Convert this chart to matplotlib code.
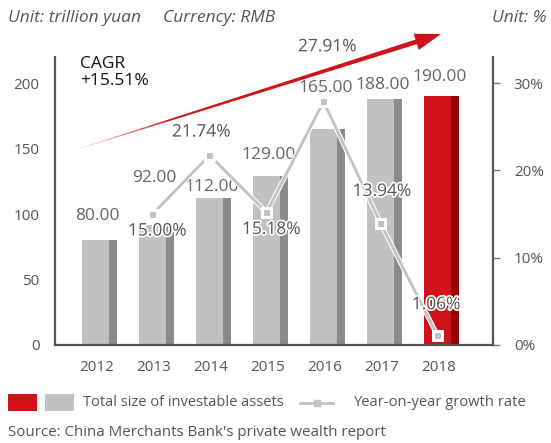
import matplotlib
matplotlib.use("Agg")
import matplotlib.pyplot as plt
import matplotlib.patheffects as pe
from matplotlib.patches import Polygon, Rectangle
from matplotlib.lines import Line2D
import numpy as np

plt.rcParams['font.family'] = ['Open Sans', 'DejaVu Sans']

years = ['2012', '2013', '2014', '2015', '2016', '2017', '2018']
assets = [80.00, 92.00, 112.00, 129.00, 165.00, 188.00, 190.00]
growth_years_idx = [1, 2, 3, 4, 5, 6]
growth = [15.00, 21.74, 15.18, 27.91, 13.94, 1.06]
left_ticks = [0, 50, 100, 150, 200]
right_ticks = [0, 10, 20, 30]

# label placement (offsets only)
bar_label_off = [18.5, 35.5, 8.6, 16, 31, 10.5, 14.6]
pct_label_pos = [(0.06, -2.0), (-0.17, 2.6), (0.06, -2.0), (0.04, 6.2), (0.0, 3.6), (-0.05, 3.5)]

W, H = 551, 443
fig = plt.figure(figsize=(W / 100, H / 100), dpi=100)
ax = fig.add_axes([55 / W, 1 - 345 / H, (493 - 55) / W, (345 - 57) / H])
ax2 = ax.twinx()

LIGHT = '#c0c1c0'
DARK = '#8a8a8a'
RED = '#d0121b'
DRED = '#960000'
TXT = '#555555'

x = np.arange(len(years))
lw_, dw_ = 0.474, 0.14
for i, v in enumerate(assets):
    c1, c2 = (RED, DRED) if i == len(years) - 1 else (LIGHT, DARK)
    ax.bar(x[i] - 0.263, v, width=lw_, align='edge', color=c1, linewidth=0, zorder=2)
    ax.bar(x[i] - 0.263 + lw_, v, width=dw_, align='edge', color=c2, linewidth=0, zorder=2)
    ax.text(x[i] + 0.01, v + bar_label_off[i], f'{v:.2f}', ha='center', va='center',
            fontsize=12.5, color='#666666', zorder=5)

ax.set_xlim(-0.737, 6.947)
ax.set_ylim(0, 220)
ax2.set_ylim(0, 33)

gx = [x[i] - 0.025 for i in growth_years_idx]
ax2.plot(gx, growth, color=LIGHT, lw=2.0, marker='s', markersize=5,
         markerfacecolor=LIGHT, markeredgecolor='white', markeredgewidth=0.8, zorder=4,
         path_effects=[pe.Stroke(linewidth=3.6, foreground='white'), pe.Normal()])
for (dx, dy), gi, g in zip(pct_label_pos, growth_years_idx, growth):
    t = ax2.text(x[gi] + dx, g + dy, f'{g:.2f}%', ha='center', va='center', fontsize=12.5,
                 color=TXT, zorder=6, clip_on=False)
    t.set_path_effects([pe.withStroke(linewidth=2.5, foreground='white')])

ax.set_xticks(x)
ax.set_xticklabels(years)
ax.set_yticks(left_ticks)
ax.set_yticklabels([str(t) for t in left_ticks])
ax2.set_yticks(right_ticks)
ax2.set_yticklabels([f'{t}%' for t in right_ticks])

ax.tick_params(axis='x', length=0, pad=11, labelsize=11, labelcolor=TXT)
ax.tick_params(axis='y', length=0, pad=11, labelsize=11, labelcolor=TXT)
ax2.tick_params(axis='y', length=5, width=1, color='#777777', pad=10, labelsize=11, labelcolor=TXT)

for a in (ax, ax2):
    a.spines['top'].set_visible(False)
    for s in ('left', 'right', 'bottom'):
        a.spines[s].set_color('#555555')
        a.spines[s].set_linewidth(1.6)
ax.spines['right'].set_visible(False)
ax2.spines['left'].set_visible(False)
ax2.spines['bottom'].set_visible(False)
ax.set_zorder(1)
ax2.set_zorder(2)
ax.patch.set_visible(False)

# red tapered arrow with fading tail (figure pixel coordinates)
def P(px, py):
    return (px / W, 1 - py / H)
tail = np.array([72.0, 151.0])
tip = np.array([441.0, 34.0])
L = np.linalg.norm(tip - tail)
u = (tip - tail) / L
n = np.array([-u[1], u[0]])
head_len = 26
hb = tip - u * head_len
shaft_len = L - head_len
w0, w1 = 0.3, 2.4
N = 40
for k in range(N):
    t0, t1 = k / N, (k + 1) / N
    a0 = tail + u * shaft_len * t0
    a1 = tail + u * shaft_len * t1 + u * 0.6
    h0 = w0 + (w1 - w0) * t0
    h1 = w0 + (w1 - w0) * t1
    alpha = min(1.0, 0.05 + t0 / 0.3)
    poly = [a0 + n * h0, a1 + n * h1, a1 - n * h1, a0 - n * h0]
    fig.patches.append(Polygon([P(*p) for p in poly], closed=True, transform=fig.transFigure,
                               facecolor=RED, edgecolor='none', alpha=alpha, zorder=10))
head = [hb + n * 8.5, tip, hb - n * 8.5]
fig.patches.append(Polygon([P(*p) for p in head], closed=True, transform=fig.transFigure,
                           facecolor=RED, edgecolor='none', zorder=10))

fig.text(80 / W, 1 - 56 / H, 'CAGR\n+15.51%', ha='left', va='top', fontsize=12.5,
         color='#111111', linespacing=1.05)

fig.text(8 / W, 1 - 18 / H, 'Unit: trillion yuan', ha='left', va='center', fontsize=12.5,
         style='italic', color=TXT)
fig.text(163 / W, 1 - 18 / H, 'Currency: RMB', ha='left', va='center', fontsize=12.5,
         style='italic', color=TXT)
fig.text(547 / W, 1 - 18 / H, 'Unit: %', ha='right', va='center', fontsize=12.5,
         style='italic', color=TXT)

# legend
fig.patches.append(Rectangle(P(8, 411), 29 / W, 17 / H, transform=fig.transFigure,
                             facecolor=RED, edgecolor='none'))
fig.patches.append(Rectangle(P(45, 411), 29 / W, 17 / H, transform=fig.transFigure,
                             facecolor=LIGHT, edgecolor='none'))
fig.text(83 / W, 1 - 403 / H, 'Total size of investable assets', ha='left', va='center',
         fontsize=10.5, color=TXT)
fig.lines.append(Line2D([300 / W, 333 / W], [1 - 403 / H, 1 - 403 / H], transform=fig.transFigure,
                        color=LIGHT, lw=2))
fig.lines.append(Line2D([316.5 / W], [1 - 403 / H], transform=fig.transFigure,
                        color=LIGHT, marker='s', markersize=5, linestyle='none'))
fig.text(353 / W, 1 - 403 / H, 'Year-on-year growth rate', ha='left', va='center',
         fontsize=10.6, color=TXT)
fig.text(8 / W, 1 - 433 / H, "Source: China Merchants Bank's private wealth report", ha='left',
         va='center', fontsize=10.9, color=TXT)

fig.savefig('out.png', dpi=100)
